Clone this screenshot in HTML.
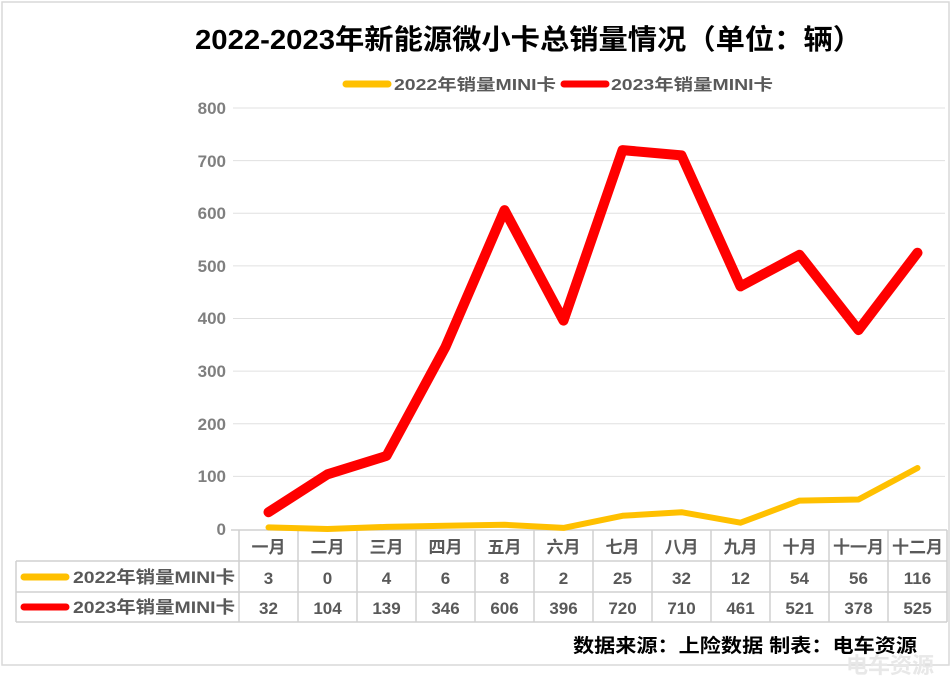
<!DOCTYPE html>
<html><head><meta charset="utf-8"><style>
body{margin:0;background:#fff;}
svg text{font-family:"Liberation Sans","Noto Sans CJK SC",sans-serif;font-weight:bold;}
</style></head><body>
<svg width="952" height="679" viewBox="0 0 952 679" xmlns="http://www.w3.org/2000/svg">
<rect x="2" y="2" width="947" height="663" fill="#fff" stroke="#d9d9d9" stroke-width="1.5"/>
<text x="195" y="49" font-size="28" textLength="667" lengthAdjust="spacingAndGlyphs" fill="#000">2022-2023年新能源微小卡总销量情况（单位：辆）</text>
<line x1="346" y1="84" x2="388" y2="84" stroke="#ffc000" stroke-width="7" stroke-linecap="round"/>
<text x="394" y="90" font-size="16" textLength="162" lengthAdjust="spacingAndGlyphs" fill="#595959">2022年销量MINI卡</text>
<line x1="564" y1="84" x2="606" y2="84" stroke="#ff0000" stroke-width="7" stroke-linecap="round"/>
<text x="611" y="90" font-size="16" textLength="162" lengthAdjust="spacingAndGlyphs" fill="#595959">2023年销量MINI卡</text>
<g stroke="#e0e0e0" stroke-width="1">
<line x1="233" y1="108" x2="945" y2="108"/><line x1="233" y1="160.6" x2="945" y2="160.6"/>
<line x1="233" y1="213.3" x2="945" y2="213.3"/><line x1="233" y1="265.9" x2="945" y2="265.9"/>
<line x1="233" y1="318.5" x2="945" y2="318.5"/><line x1="233" y1="371.1" x2="945" y2="371.1"/>
<line x1="233" y1="423.8" x2="945" y2="423.8"/><line x1="233" y1="476.4" x2="945" y2="476.4"/>
</g>
<g font-size="17" fill="#7f7f7f" text-anchor="end">
<text x="226" y="114">800</text><text x="226" y="167">700</text><text x="226" y="219">600</text>
<text x="226" y="272">500</text><text x="226" y="324">400</text><text x="226" y="377">300</text>
<text x="226" y="430">200</text><text x="226" y="482">100</text><text x="226" y="535">0</text>
</g>
<g stroke="#d0d0d0" stroke-width="1.5" fill="none">
<line x1="231" y1="530" x2="947" y2="530"/>
<line x1="16" y1="561" x2="947" y2="561"/>
<line x1="16" y1="592" x2="947" y2="592"/>
<line x1="16" y1="622" x2="947" y2="622"/>
<line x1="16" y1="561" x2="16" y2="622"/>
<line x1="947" y1="530" x2="947" y2="622"/>
<line x1="239" y1="530" x2="239" y2="622"/><line x1="298" y1="530" x2="298" y2="622"/>
<line x1="357" y1="530" x2="357" y2="622"/><line x1="416" y1="530" x2="416" y2="622"/>
<line x1="475" y1="530" x2="475" y2="622"/><line x1="534" y1="530" x2="534" y2="622"/>
<line x1="593" y1="530" x2="593" y2="622"/><line x1="652" y1="530" x2="652" y2="622"/>
<line x1="711" y1="530" x2="711" y2="622"/><line x1="770" y1="530" x2="770" y2="622"/>
<line x1="829" y1="530" x2="829" y2="622"/><line x1="888" y1="530" x2="888" y2="622"/>
</g>
<g font-size="17" fill="#595959" text-anchor="middle">
<text x="268.5" y="553">一月</text><text x="327.5" y="553">二月</text><text x="386.5" y="553">三月</text>
<text x="445.5" y="553">四月</text><text x="504.5" y="553">五月</text><text x="563.5" y="553">六月</text>
<text x="622.5" y="553">七月</text><text x="681.5" y="553">八月</text><text x="740.5" y="553">九月</text>
<text x="799.5" y="553">十月</text><text x="858.5" y="553">十一月</text><text x="917.5" y="553">十二月</text>
<text x="268.5" y="584">3</text><text x="327.5" y="584">0</text><text x="386.5" y="584">4</text>
<text x="445.5" y="584">6</text><text x="504.5" y="584">8</text><text x="563.5" y="584">2</text>
<text x="622.5" y="584">25</text><text x="681.5" y="584">32</text><text x="740.5" y="584">12</text>
<text x="799.5" y="584">54</text><text x="858.5" y="584">56</text><text x="917.5" y="584">116</text>
<text x="268.5" y="614">32</text><text x="327.5" y="614">104</text><text x="386.5" y="614">139</text>
<text x="445.5" y="614">346</text><text x="504.5" y="614">606</text><text x="563.5" y="614">396</text>
<text x="622.5" y="614">720</text><text x="681.5" y="614">710</text><text x="740.5" y="614">461</text>
<text x="799.5" y="614">521</text><text x="858.5" y="614">378</text><text x="917.5" y="614">525</text>
</g>
<line x1="24" y1="577" x2="66" y2="577" stroke="#ffc000" stroke-width="7" stroke-linecap="round"/>
<text x="73" y="583" font-size="17" textLength="162" lengthAdjust="spacingAndGlyphs" fill="#595959">2022年销量MINI卡</text>
<line x1="24" y1="607" x2="66" y2="607" stroke="#ff0000" stroke-width="7" stroke-linecap="round"/>
<text x="73" y="613" font-size="17" textLength="162" lengthAdjust="spacingAndGlyphs" fill="#595959">2023年销量MINI卡</text>
<polyline fill="none" stroke="#ffc000" stroke-width="6" stroke-linejoin="round" stroke-linecap="round"
points="268.5,527.4 327.5,529 386.5,526.9 445.5,525.8 504.5,524.8 563.5,527.9 622.5,515.8 681.5,512.2 740.5,522.7 799.5,500.6 858.5,499.5 917.5,468"/>
<polyline fill="none" stroke="#ff0000" stroke-width="10" stroke-linejoin="round" stroke-linecap="round"
points="268.5,512.2 327.5,474.3 386.5,455.9 445.5,346.9 504.5,210.1 563.5,320.6 622.5,150.1 681.5,155.4 740.5,286.4 799.5,254.8 858.5,330.1 917.5,252.7"/>
<text x="573" y="652" font-size="19" textLength="344" lengthAdjust="spacingAndGlyphs" fill="#000">数据来源：上险数据  制表：电车资源</text>
<text x="846" y="673" font-size="22" fill="#e8e8e8">电车资源</text>
</svg>
</body></html>
